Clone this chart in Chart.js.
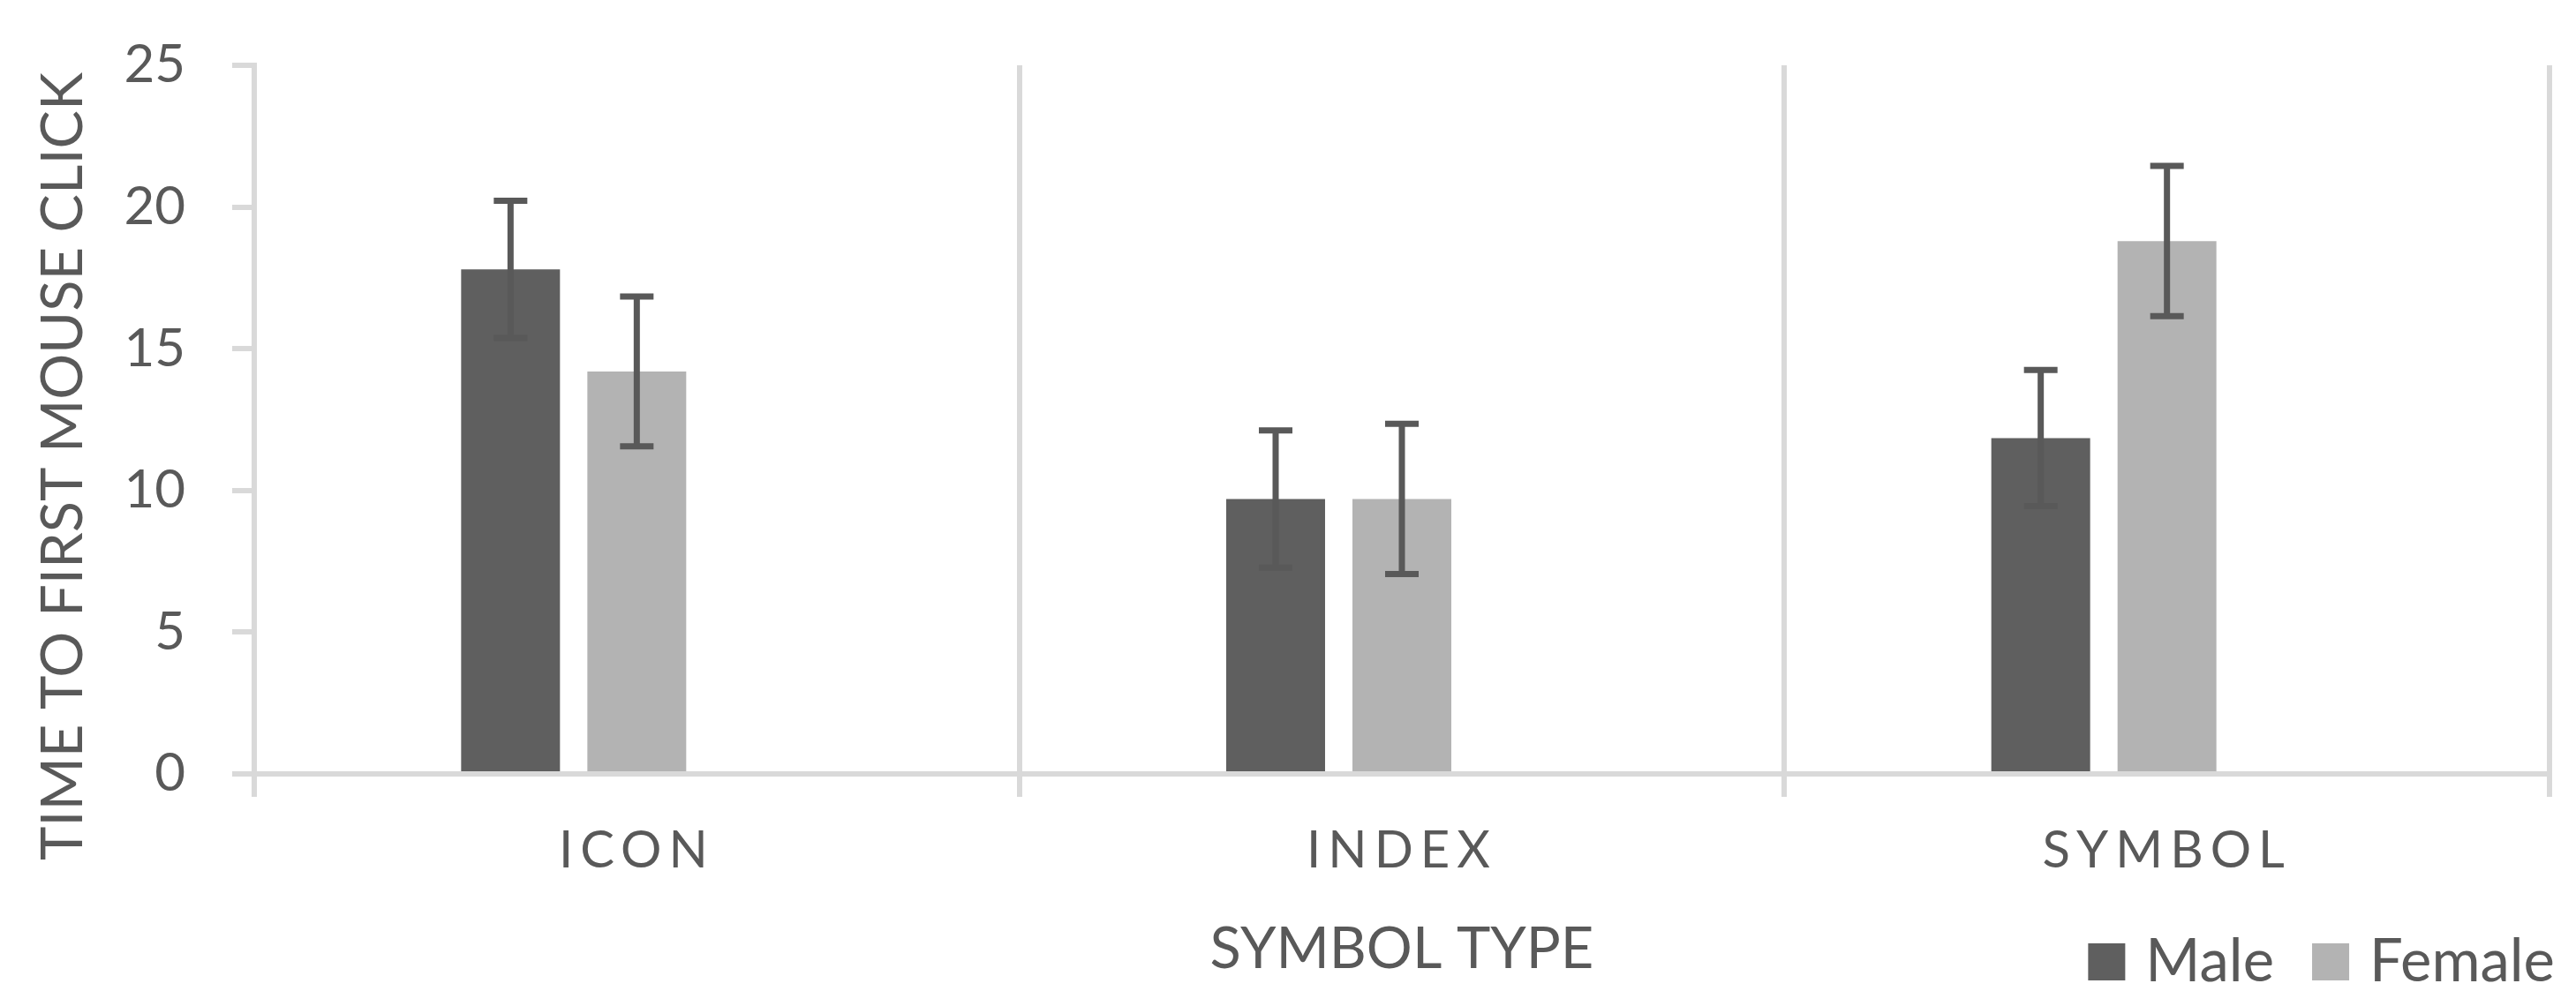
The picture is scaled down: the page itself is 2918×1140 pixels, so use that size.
<!DOCTYPE html>
<html>
<head>
<meta charset="utf-8">
<title>Time to first mouse click by symbol type</title>
<script src="https://cdn.jsdelivr.net/npm/chart.js@4.4.1/dist/chart.umd.min.js"></script>
<style>
    html, body { margin: 0; padding: 0; background: #ffffff; }
    #wrap { width: 2918px; height: 1140px; position: relative; }
</style>
</head>
<body>
<div id="wrap"><canvas id="mainChart"></canvas></div>
<script>
// Chart data
const categories = ['ICON', 'INDEX', 'SYMBOL'];
const seriesNames = ['Male', 'Female'];
const maleTimes = [17.8, 9.7, 11.85];
const femaleTimes = [14.2, 9.7, 18.8];
const maleErrors = [2.42, 2.42, 2.4];
const femaleErrors = [2.64, 2.65, 2.65];
const yTicks = [0, 5, 10, 15, 20, 25];
const yTitle = 'TIME TO FIRST MOUSE CLICK';
const xTitle = 'SYMBOL TYPE';

const TEXT = '#595959';
const GRID = '#d9d9d9';
const MALE_COLOR = '#5f5f5f';
const FEMALE_COLOR = '#b3b3b3';
const FONT = "Lato, 'Open Sans', sans-serif";

// Error bars drawn on top of the bars, using the y scale
const errorBarPlugin = {
    id: 'errorBars',
    afterDatasetsDraw(chart) {
        const ctx = chart.ctx;
        const y = chart.scales.y;
        chart.data.datasets.forEach((ds, di) => {
            if (!ds.errors) return;
            const meta = chart.getDatasetMeta(di);
            meta.data.forEach((bar, i) => {
                const v = ds.data[i];
                const e = ds.errors[i];
                if (v == null || e == null) return;
                const top = y.getPixelForValue(v + e);
                const bot = y.getPixelForValue(v - e);
                ctx.save();
                ctx.strokeStyle = TEXT;
                ctx.lineWidth = 7;
                ctx.beginPath();
                ctx.moveTo(bar.x, top);
                ctx.lineTo(bar.x, bot);
                ctx.moveTo(bar.x - 19, top);
                ctx.lineTo(bar.x + 19, top);
                ctx.moveTo(bar.x - 19, bot);
                ctx.lineTo(bar.x + 19, bot);
                ctx.stroke();
                ctx.restore();
            });
        });
    }
};

// Letter-spaced category labels, rotated y title and the legend
const textPlugin = {
    id: 'textExtras',
    afterDraw(chart) {
        const ctx = chart.ctx;
        const x = chart.scales.x;
        const area = chart.chartArea;

        // category labels
        ctx.save();
        ctx.fillStyle = TEXT;
        ctx.font = '58px ' + FONT;
        ctx.letterSpacing = '8px';
        ctx.textAlign = 'center';
        ctx.textBaseline = 'middle';
        categories.forEach((c, i) => {
            ctx.fillText(c, x.getPixelForTick(i), x.top + 87);
        });
        ctx.restore();

        // y axis title
        ctx.save();
        ctx.fillStyle = TEXT;
        ctx.font = '65px ' + FONT;
        ctx.textAlign = 'center';
        ctx.textBaseline = 'middle';
        ctx.translate(72, (area.top + area.bottom) / 2 + 53);
        ctx.rotate(-Math.PI / 2);
        ctx.fillText(yTitle, 0, 0);
        ctx.restore();

        // legend, right aligned on the x title row
        ctx.save();
        ctx.font = '67px ' + FONT;
        ctx.textBaseline = 'middle';
        ctx.textAlign = 'left';
        const box = 42, boxGap = 23, itemGap = 43;
        const cy = 1090;
        let right = chart.width - 24;
        for (let i = seriesNames.length - 1; i >= 0; i--) {
            const ds = chart.data.datasets[i];
            const w = ctx.measureText(ds.label).width;
            const textX = right - w;
            const boxX = textX - boxGap - box;
            ctx.fillStyle = ds.backgroundColor;
            ctx.fillRect(boxX, cy - box / 2, box, box);
            ctx.fillStyle = TEXT;
            ctx.fillText(ds.label, textX, cy);
            right = boxX - itemGap;
        }
        ctx.restore();
    }
};

const ctx = document.getElementById('mainChart').getContext('2d');

const chartConfig = {
    type: 'bar',
    data: {
        labels: categories,
        datasets: [{
            label: seriesNames[0],
            data: maleTimes,
            errors: maleErrors,
            backgroundColor: MALE_COLOR
        }, {
            label: seriesNames[1],
            data: femaleTimes,
            errors: femaleErrors,
            backgroundColor: FEMALE_COLOR
        }, {
            // empty third slot, keeps the pair off-centre as in the original
            label: '',
            data: categories.map(() => null),
            backgroundColor: 'rgba(0,0,0,0)'
        }]
    },
    options: {
        responsive: true,
        maintainAspectRatio: false,
        devicePixelRatio: 1,
        animation: false,
        categoryPercentage: 0.495,
        barPercentage: 0.783,
        layout: {
            padding: { top: 74, right: 30, left: 0, bottom: 0 }
        },
        scales: {
            x: {
                offset: true,
                grid: {
                    offset: true,
                    color: GRID,
                    lineWidth: 6,
                    tickLength: 26,
                    tickColor: GRID
                },
                border: { display: true, color: GRID, width: 6 },
                ticks: { display: false },
                title: {
                    display: true,
                    text: xTitle,
                    color: TEXT,
                    font: { family: FONT, size: 65, lineHeight: 1 },
                    padding: { top: 0, bottom: 31 }
                },
                afterFit(scale) { scale.height = 263; }
            },
            y: {
                min: 0,
                max: 25,
                afterBuildTicks(scale) {
                    scale.ticks = yTicks.map(v => ({ value: v }));
                },
                grid: {
                    drawOnChartArea: false,
                    drawTicks: true,
                    tickLength: 25,
                    color: GRID,
                    lineWidth: 6
                },
                border: { display: true, color: GRID, width: 6 },
                ticks: {
                    color: TEXT,
                    padding: 53,
                    font: { family: FONT, size: 60 }
                },
                afterFit(scale) {
                    scale.width = 288;
                    // the wide label gap should not push the plot down
                    scale.paddingTop = 0;
                    scale.paddingBottom = 0;
                }
            }
        },
        plugins: {
            legend: { display: false },
            tooltip: { enabled: false }
        }
    },
    plugins: [errorBarPlugin, textPlugin]
};

let mainChart = new Chart(ctx, chartConfig);
</script>
</body>
</html>
